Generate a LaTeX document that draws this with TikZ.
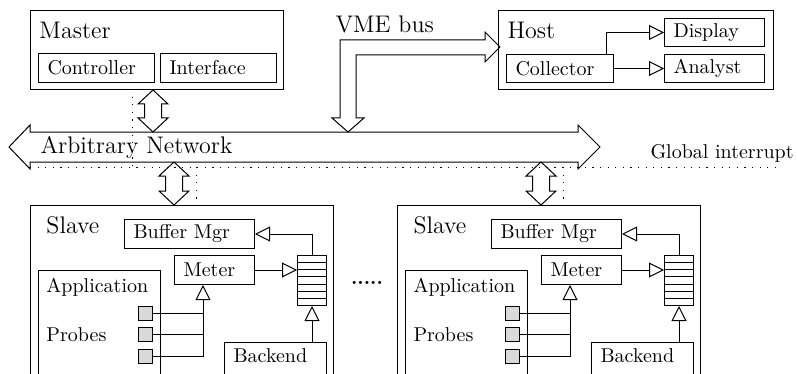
\documentclass[tikz,border=0pt]{standalone}
\usetikzlibrary{arrows.meta,calc}

\newcommand\fatarrow[3]{% x, top tip, bottom tip
  \draw (#1,#2) -- (#1+15,#2+14) -- (#1+8.5,#2+14) -- (#1+8.5,#3-14) -- (#1+15,#3-14)
    -- (#1,#3) -- (#1-15,#3-14) -- (#1-8.5,#3-14) -- (#1-8.5,#2+14) -- (#1-15,#2+14) -- cycle;}

\begin{document}
\begin{tikzpicture}[x=0.5pt,y=-0.5pt,line width=0.5pt,
  box/.style={draw,anchor=north west,inner sep=0pt},
  tbox/.style={box,align=left,inner xsep=4.5pt},
  title/.style={anchor=base west,inner sep=0pt,font=\large},
  txt/.style={anchor=base west,inner sep=0pt},
  probe/.style={draw,fill=black!15,minimum size=7pt,inner sep=0pt},
  tri/.style={-{Triangle[open,length=7.5pt,width=7.5pt]}},
  irq/.style={dash pattern=on 0.6pt off 3.2pt}]
\useasboundingbox (0,0) rectangle (797,374);
\clip (0,0) rectangle (797,374);

% master
\node[box,minimum width=126.5pt,minimum height=39.5pt] (master) at (30,10) {};
\node[title] (mastert) at (39,39) {Master};
\node[tbox,text width=49pt,minimum height=14.5pt] (ctrl) at (38,53) {Controller};
\node[tbox,text width=49pt,minimum height=14.5pt] (iface) at (160,53) {Interface};

% host
\node[box,minimum width=137.5pt,minimum height=39.5pt] (host) at (498,10) {};
\node[title] (hostt) at (507,39) {Host};
\node[tbox,text width=44.5pt,minimum height=14pt] (coll) at (506,54) {Collector};
\node[tbox,text width=41pt,minimum height=14pt] (disp) at (664,18) {Display};
\node[tbox,text width=41pt,minimum height=14pt] (anal) at (664,54) {Analyst};
\coordinate (cx) at (606,0);
\draw[tri] (coll.east) -- (anal.west);
\draw[tri] (cx |- coll.north) |- (disp.west);

% buses
\node[title] (vme) at (335,33) {VME bus};
\node[title] (net) at (40,154) {Arbitrary Network};
\node[txt] (irq) at (650,158) {Global interrupt};

\draw[irq] (132,89) -- (132,167);
\draw[irq] (30,167) -- (775,167);
\draw[irq] (196,167) -- (196,205);
\draw[irq] (563,167) -- (563,205);

\draw (9,147) -- (30,125) -- (30,132) -- (578,132) -- (578,125) -- (600,147)
  -- (578,169) -- (578,162) -- (30,162) -- (30,169) -- cycle;
\draw (348,132) -- (364,118) -- (356,118) -- (356,55) -- (485,55) -- (485,62)
  -- (500,47) -- (485,32) -- (485,40) -- (340,40) -- (340,118) -- (332,118) -- cycle;
\fatarrow{153}{90}{132}
\fatarrow{174}{162}{205}
\fatarrow{541}{162}{205}

\node[anchor=base,font=\bfseries] (dots) at (367,284) {.....};

% slaves
\foreach \s/\dx in {1/0,2/367}{
  \begin{scope}[shift={(\dx,0)}]
  \node[box,minimum width=151.5pt,minimum height=100pt] (slave\s) at (30,205) {};
  \node[title] (slavet\s) at (46,233) {Slave};
  \node[tbox,text width=56pt,minimum height=14.5pt] (buf\s) at (124,219) {Buffer Mgr};
  \node[tbox,text width=31pt,minimum height=14.5pt] (meter\s) at (174,255) {Meter};
  \node[box,minimum width=61pt,minimum height=75pt] (app\s) at (38,270) {};
  \node[txt] (appt\s) at (46,292) {Application};
  \node[txt] (probet\s) at (46,341) {Probes};
  \node[box,minimum width=14.5pt,minimum height=25pt] (q\s) at (297,255) {};
  \foreach \k in {1,...,6}
    \draw ($(q\s.north west)!\k/7!(q\s.south west)$) -- ($(q\s.north east)!\k/7!(q\s.south east)$);
  \node[tbox,text width=42pt,text height=10pt,text depth=25pt] (back\s) at (224,342) {Backend};
  \foreach \p/\y in {1/313,2/334.5,3/356}
    \node[probe] (p\s\p) at (145.5,\y) {};
  \coordinate (mx\s) at (203,0);
  \draw[tri] (q\s.north) |- (buf\s.east);
  \draw[tri] (meter\s.east) -- (meter\s.east -| q\s.west);
  \draw[tri] (q\s.south |- back\s.north) -- (q\s.south);
  \draw (p\s1.east) -- (p\s1.east -| mx\s);
  \draw (p\s2.east) -- (p\s2.east -| mx\s);
  \draw[tri] (p\s3.east) -| (mx\s |- meter\s.south);
  \end{scope}}
\end{tikzpicture}
\end{document}
